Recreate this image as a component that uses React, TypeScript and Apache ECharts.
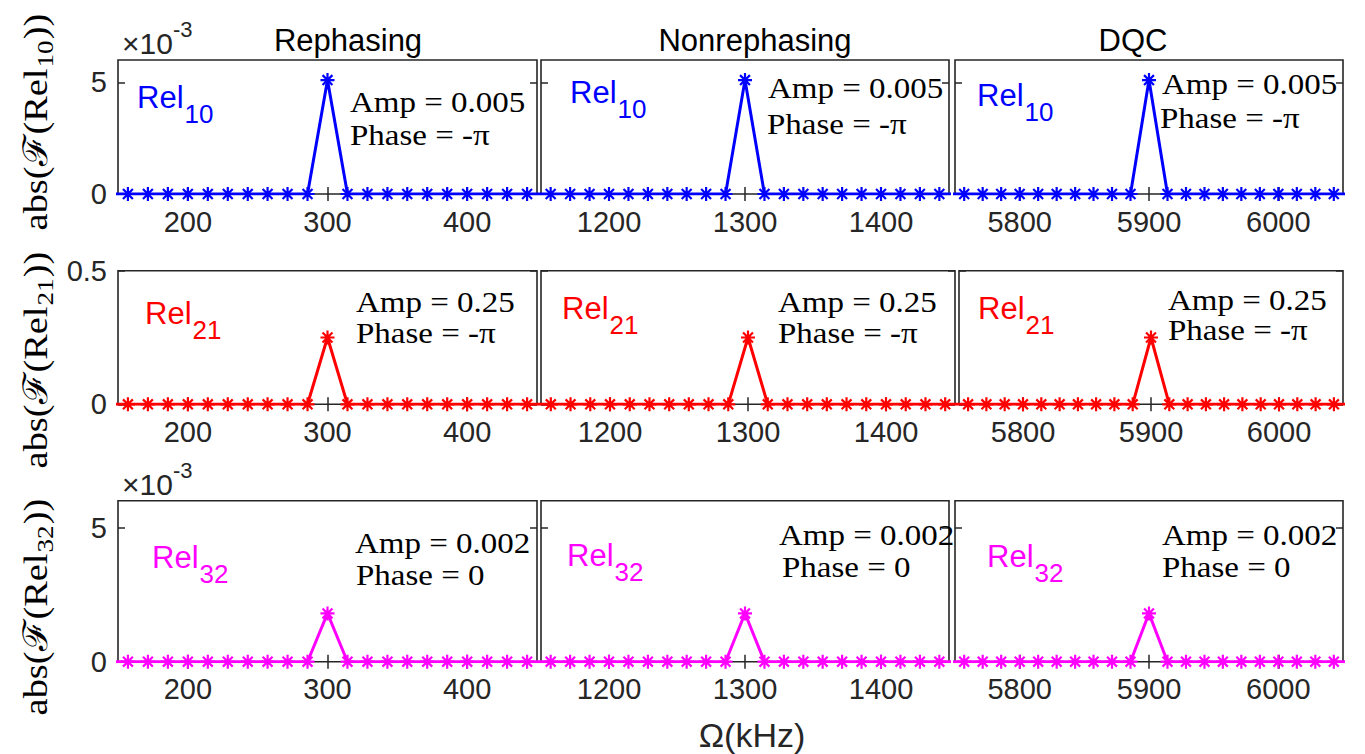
import React, { useEffect, useRef } from "react";
import * as echarts from "echarts";

// ---- data ----
const X_OFFSETS = [-157.1, -142.9, -128.6, -114.3, -100, -85.7, -71.4, -57.1, -42.9, -28.6, -14.3, 0, 14.3, 28.6, 42.9, 57.1, 71.4, 85.7, 100, 114.3, 128.6, 142.9, 157.1];
const PEAK_CENTERS = [300, 1300, 5900];
const X_RANGES = [[150, 450], [1150, 1450], [5750, 6050]];
const X_TICKS = [[200, 300, 400], [1200, 1300, 1400], [5800, 5900, 6000]];
const COLUMN_TITLES = ["Rephasing", "Nonrephasing", "DQC"];

const REL10 = [0, 0, 0, 0, 0, 0, 0, 0, 0, 0, 0, 0.0051, 0, 0, 0, 0, 0, 0, 0, 0, 0, 0, 0];
const REL21 = [0, 0, 0, 0, 0, 0, 0, 0, 0, 0, 0, 0.25, 0, 0, 0, 0, 0, 0, 0, 0, 0, 0, 0];
const REL32 = [0, 0, 0, 0, 0, 0, 0, 0, 0, 0, 0, 0.0018, 0, 0, 0, 0, 0, 0, 0, 0, 0, 0, 0];
const ROW_VALUES = [REL10, REL21, REL32];
const ROW_NAMES = ["Rel", "Rel", "Rel"];
const ROW_SUBS = ["10", "21", "32"];
const ROW_COLORS = ["#0000ff", "#ff0000", "#ff00ff"];
const Y_RANGES = [[0, 0.006], [0, 0.5], [0, 0.006]];
const Y_TICKS = [[0, 0.005], [0, 0.5], [0, 0.005]];
const Y_TICK_LABELS = [["0", "5"], ["0", "0.5"], ["0", "5"]];
const AMP_TEXTS = ["Amp = 0.005", "Amp = 0.25", "Amp = 0.002"];
const PHASE_TEXTS = ["Phase = -π", "Phase = -π", "Phase = 0"];

// ---- layout ----
const ROW_BOX = [[60, 194], [270.7, 404.3], [500.7, 661.7]];
const COL_BOX = [
  [[118, 537], [541, 949], [955, 1343]],
  [[118, 537], [541, 955], [959, 1343]],
  [[118, 537], [541, 949], [955, 1343]],
];
const AMP_POS = [
  [[350, 102, 350, 135], [768, 88, 767, 124], [1162, 84, 1160, 118]],
  [[356, 302, 356, 333], [778, 302, 778, 333], [1168, 300, 1168, 330]],
  [[355, 543, 356, 575], [779, 535, 782, 567], [1162, 535, 1162, 567]],
];
const REL_POS = [
  [[137, 97], [570, 92], [977, 95]],
  [[145, 313], [562, 308], [978, 308]],
  [[152, 557], [567, 555], [987, 556]],
];
const YLABEL_CENTER = [[36, 122], [36, 360], [36, 607]];

const SANS = '"Liberation Sans", Arial, Helvetica, sans-serif';
const SERIF = '"Liberation Serif", "DejaVu Serif", serif';
const AXIS_COLOR = "#262626";

function measure(text: string, size: number, family: string) {
  const c = document.createElement("canvas").getContext("2d")!;
  c.font = `${size}px ${family}`;
  return c.measureText(text).width;
}

const ASTERISK = "path://M0,-1L0,1M-1,0L1,0M-0.7071,-0.7071L0.7071,0.7071M-0.7071,0.7071L0.7071,-0.7071";

export default function App() {
  const ref = useRef<HTMLDivElement>(null);
  useEffect(() => {
    if (!ref.current) return;
    const chart = echarts.init(ref.current, null, { renderer: "svg" });
    const grids: any[] = [];
    const xAxes: any[] = [];
    const yAxes: any[] = [];
    const series: any[] = [];
    const graphics: any[] = [];

    for (let r = 0; r < 3; r++) {
      for (let c = 0; c < 3; c++) {
        const gi = r * 3 + c;
        const [x0, x1] = COL_BOX[r][c];
        const [y0, y1] = ROW_BOX[r];
        grids.push({
          left: x0, top: y0, width: x1 - x0, height: y1 - y0,
          show: true, borderColor: AXIS_COLOR, borderWidth: 1.6, backgroundColor: "transparent",
          containLabel: false,
        });
        const tickStyle = { show: true, inside: true, length: 7, lineStyle: { color: AXIS_COLOR, width: 1.5 } };
        xAxes.push({
          type: "value", gridIndex: gi, min: X_RANGES[c][0], max: X_RANGES[c][1], position: "bottom",
          axisLine: { show: false }, splitLine: { show: false },
          axisTick: { ...tickStyle, customValues: X_TICKS[c] },
          axisLabel: { customValues: X_TICKS[c], color: AXIS_COLOR, fontSize: 29, fontFamily: SANS, margin: 13, formatter: (v: number) => String(v) },
        });
        xAxes.push({
          type: "value", gridIndex: gi, min: X_RANGES[c][0], max: X_RANGES[c][1], position: "top",
          axisLine: { show: false }, splitLine: { show: false },
          axisTick: { ...tickStyle, customValues: X_TICKS[c] },
          axisLabel: { show: false },
        });
        const labels = Y_TICK_LABELS[r];
        const ticks = Y_TICKS[r];
        yAxes.push({
          type: "value", gridIndex: gi, min: Y_RANGES[r][0], max: Y_RANGES[r][1], position: "left",
          axisLine: { show: false }, splitLine: { show: false },
          axisTick: { ...tickStyle, customValues: ticks },
          axisLabel: {
            show: c === 0, customValues: ticks, color: AXIS_COLOR, fontSize: 29, fontFamily: SANS, margin: 11,
            formatter: (v: number) => { const i = ticks.findIndex((t) => Math.abs(t - v) < 1e-9); return i >= 0 ? labels[i] : ""; },
          },
        });
        yAxes.push({
          type: "value", gridIndex: gi, min: Y_RANGES[r][0], max: Y_RANGES[r][1], position: "right",
          axisLine: { show: false }, splitLine: { show: false },
          axisTick: { ...tickStyle, customValues: ticks },
          axisLabel: { show: false },
        });
        const data = X_OFFSETS.map((o, i) => [PEAK_CENTERS[c] + o, ROW_VALUES[r][i]]);
        series.push({
          type: "line", xAxisIndex: gi * 2, yAxisIndex: gi * 2, data, clip: true,
          symbol: ASTERISK, symbolSize: 14, showAllSymbol: true,
          lineStyle: { color: ROW_COLORS[r], width: 3 },
          itemStyle: { color: ROW_COLORS[r], borderColor: ROW_COLORS[r], borderWidth: 2.2 },
          z: 3,
        });

        // Amp / Phase annotations
        const ap = AMP_POS[r][c];
        graphics.push({ type: "text", x: ap[0], y: ap[1], scaleX: 1.1, style: { text: AMP_TEXTS[r], fill: "#000", fontSize: 30, fontFamily: SERIF, textAlign: "left", textVerticalAlign: "middle" }, z: 10 });
        graphics.push({ type: "text", x: ap[2], y: ap[3], scaleX: 1.1, style: { text: PHASE_TEXTS[r], fill: "#000", fontSize: 30, fontFamily: SERIF, textAlign: "left", textVerticalAlign: "middle" }, z: 10 });

        // Rel labels
        const rp = REL_POS[r][c];
        const wRel = measure(ROW_NAMES[r], 31, SANS);
        graphics.push({ type: "text", x: rp[0], y: rp[1], style: { text: ROW_NAMES[r], fill: ROW_COLORS[r], fontSize: 31, fontFamily: SANS, textAlign: "left", textVerticalAlign: "middle" }, z: 10 });
        graphics.push({ type: "text", x: rp[0] + wRel + 1, y: rp[1] + 17, style: { text: ROW_SUBS[r], fill: ROW_COLORS[r], fontSize: 26, fontFamily: SANS, textAlign: "left", textVerticalAlign: "middle" }, z: 10 });
      }

      // rotated y label
      const main = "abs(ℱ(Rel";
      const tail = "))";
      const s1 = 34, s2 = 24;
      const w1 = measure(main, s1, SERIF);
      const w2 = measure(ROW_SUBS[r], s2, SERIF);
      const w3 = measure(tail, s1, SERIF);
      const W = w1 + w2 + w3 + 2;
      const start = -W / 2;
      graphics.push({
        type: "group", x: YLABEL_CENTER[r][0], y: YLABEL_CENTER[r][1], rotation: Math.PI / 2, scaleX: 1.13,
        children: [
          { type: "text", x: start, y: 0, style: { text: main, fill: "#000", fontSize: s1, fontFamily: SERIF, textAlign: "left", textVerticalAlign: "middle" } },
          { type: "text", x: start + w1 + 1, y: 9, style: { text: ROW_SUBS[r], fill: "#000", fontSize: s2, fontFamily: SERIF, textAlign: "left", textVerticalAlign: "middle" } },
          { type: "text", x: start + w1 + w2 + 2, y: 0, style: { text: tail, fill: "#000", fontSize: s1, fontFamily: SERIF, textAlign: "left", textVerticalAlign: "middle" } },
        ],
      });
    }

    // column titles
    const titleX = [348, 755, 1133];
    COLUMN_TITLES.forEach((t, i) => {
      graphics.push({ type: "text", x: titleX[i], y: 40, style: { text: t, fill: "#000", fontSize: 31, fontFamily: SANS, textAlign: "center", textVerticalAlign: "middle" } });
    });

    // exponent labels
    [[122, 43], [122, 484]].forEach(([x, y]) => {
      const w = measure("×10", 30, SANS);
      graphics.push({ type: "text", x, y, style: { text: "×10", fill: AXIS_COLOR, fontSize: 30, fontFamily: SANS, textAlign: "left", textVerticalAlign: "middle" } });
      graphics.push({ type: "text", x: x + w, y: y - 14, style: { text: "-3", fill: AXIS_COLOR, fontSize: 22, fontFamily: SANS, textAlign: "left", textVerticalAlign: "middle" } });
    });

    // x axis title
    graphics.push({ type: "text", x: 752, y: 735, style: { text: "Ω(kHz)", fill: AXIS_COLOR, fontSize: 34, fontFamily: SANS, textAlign: "center", textVerticalAlign: "middle" } });

    chart.setOption({
      animation: false,
      backgroundColor: "#ffffff",
      grid: grids,
      xAxis: xAxes,
      yAxis: yAxes,
      series,
      graphic: graphics,
    });
    return () => chart.dispose();
  }, []);
  return <div ref={ref} style={{ position: "fixed", left: 0, top: 0, width: 1365, height: 754, background: "#fff" }} />;
}
